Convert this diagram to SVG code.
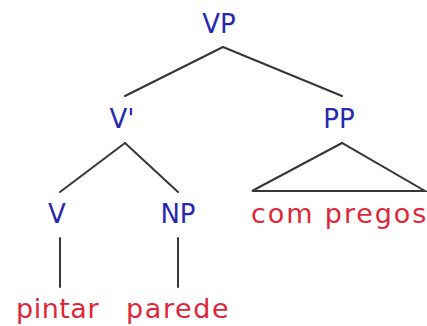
<svg xmlns="http://www.w3.org/2000/svg" width="427" height="326" viewBox="0 0 427 326">
  <style>
    .cat { font-family: "DejaVu Sans", Verdana, sans-serif; font-size: 26px; fill: #2828b0; text-anchor: middle; }
    .word { font-family: "DejaVu Sans", Verdana, sans-serif; font-size: 27px; fill: #e0263a; }
    .edge { stroke: #363636; stroke-width: 2; fill: none; stroke-linecap: round; }
  </style>
  <rect width="427" height="326" fill="#ffffff"/>
  <g id="connectors">
    <line class="edge" x1="223" y1="47" x2="125" y2="96"/>
    <line class="edge" x1="223" y1="47" x2="342" y2="96"/>
    <line class="edge" x1="125" y1="143" x2="60" y2="192"/>
    <line class="edge" x1="125" y1="143" x2="178" y2="192"/>
    <polygon class="edge" points="342,143 252,191 425,191"/>
    <line class="edge" x1="60" y1="238" x2="60" y2="287"/>
    <line class="edge" x1="178" y1="238" x2="178" y2="287"/>
  </g>
  <g id="node-vp"><text class="cat" x="219" y="33">VP</text></g>
  <g id="node-vbar"><text class="cat" x="122" y="128">V'</text></g>
  <g id="node-pp"><text class="cat" x="339" y="128">PP</text></g>
  <g id="node-v"><text class="cat" x="57" y="223">V</text></g>
  <g id="node-np"><text class="cat" x="178" y="223">NP</text></g>
  <g id="node-com-pregos"><text class="word" x="251" y="223" letter-spacing="1.9">com pregos</text></g>
  <g id="node-pintar"><text class="word" x="16" y="318" letter-spacing="0.5">pintar</text></g>
  <g id="node-parede"><text class="word" x="126" y="318" letter-spacing="1.6">parede</text></g>
</svg>
